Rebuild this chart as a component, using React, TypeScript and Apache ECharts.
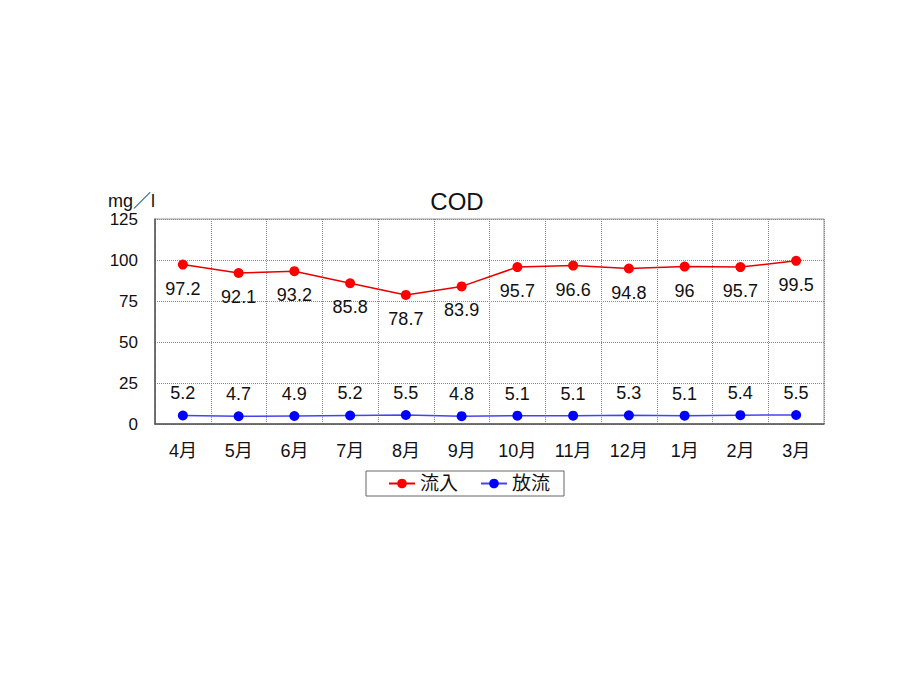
import { useEffect, useRef } from 'react';
import * as echarts from 'echarts';

// 月
const months = ['4月', '5月', '6月', '7月', '8月', '9月', '10月', '11月', '12月', '1月', '2月', '3月'];
// 流入 (mg/l)
const inflow = [97.2, 92.1, 93.2, 85.8, 78.7, 83.9, 95.7, 96.6, 94.8, 96, 95.7, 99.5];
// 放流 (mg/l)
const outflow = [5.2, 4.7, 4.9, 5.2, 5.5, 4.8, 5.1, 5.1, 5.3, 5.1, 5.4, 5.5];

const FONT = "'Liberation Sans', 'Noto Sans CJK JP', sans-serif";

export default function App() {
  const chartRef = useRef<HTMLDivElement>(null);

  useEffect(() => {
    if (!chartRef.current) return;
    const chart = echarts.init(chartRef.current, undefined, { renderer: 'svg' });

    chart.setOption({
      animation: false,
      backgroundColor: '#fff',
      textStyle: { fontFamily: FONT },
      title: {
        text: 'COD',
        left: 452,
        top: 184,
        textAlign: 'center',
        textStyle: { fontSize: 24, fontWeight: 'normal', color: '#111', fontFamily: FONT },
      },
      legend: {
        left: 366,
        top: 471,
        data: ['流入', '放流'],
        itemWidth: 26,
        itemHeight: 12,
        itemGap: 22,
        padding: [3, 14, 3, 22],
        borderColor: '#666',
        borderWidth: 1,
        textStyle: { fontSize: 19, color: '#111', fontFamily: FONT },
      },
      grid: {
        left: 155,
        right: 89,
        top: 219,
        bottom: 261,
        show: true,
        borderColor: '#999',
        borderWidth: 1,
      },
      xAxis: {
        type: 'category',
        data: months,
        boundaryGap: true,
        axisLine: { lineStyle: { color: '#555', width: 1.5 } },
        axisTick: { show: false },
        axisLabel: { color: '#111', fontSize: 18, margin: 18, fontFamily: FONT },
        splitLine: { show: true, lineStyle: { color: '#888', type: 'dotted', width: 1 } },
      },
      yAxis: {
        type: 'value',
        min: 0,
        max: 125,
        interval: 25,
        name: 'mg／l',
        nameLocation: 'end',
        nameGap: 9,
        nameTextStyle: { align: 'right', fontSize: 18, color: '#111', fontFamily: FONT },
        axisLine: { show: true, lineStyle: { color: '#555', width: 1.5 } },
        axisTick: { show: false },
        axisLabel: { color: '#111', fontSize: 17, margin: 17, fontFamily: FONT },
        splitLine: { show: true, lineStyle: { color: '#888', type: 'dotted', width: 1 } },
      },
      series: [
        {
          name: '流入',
          type: 'line',
          data: inflow,
          symbol: 'circle',
          symbolSize: 10,
          itemStyle: { color: '#ff0000' },
          lineStyle: { color: '#e60000', width: 1.5 },
          label: {
            show: true,
            position: 'bottom',
            distance: 10,
            color: '#111',
            fontSize: 18,
            fontFamily: FONT,
          },
        },
        {
          name: '放流',
          type: 'line',
          data: outflow,
          symbol: 'circle',
          symbolSize: 10,
          itemStyle: { color: '#0000ff' },
          lineStyle: { color: '#4444ee', width: 1.5 },
          label: {
            show: true,
            position: 'top',
            distance: 8,
            color: '#111',
            fontSize: 18,
            fontFamily: FONT,
          },
        },
      ],
    });

    return () => {
      chart.dispose();
    };
  }, []);

  return (
    <div
      ref={chartRef}
      style={{ position: 'fixed', left: 0, top: 0, width: 913, height: 685 }}
    />
  );
}
